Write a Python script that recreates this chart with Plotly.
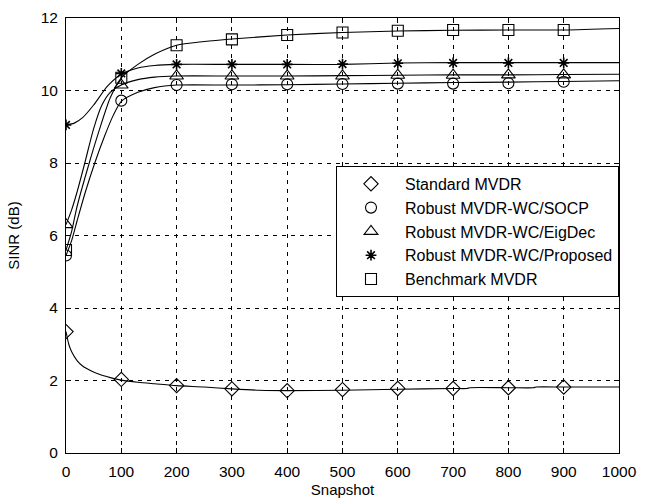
import plotly.graph_objects as go

# Snapshot positions where markers are drawn
marker_x = [0, 100, 200, 300, 400, 500, 600, 700, 800, 900]

# SINR (dB) at the marker positions
std_mvdr_m = [3.35, 2.03, 1.86, 1.77, 1.72, 1.75, 1.78, 1.78, 1.80, 1.82]
socp_m = [5.45, 9.72, 10.15, 10.17, 10.17, 10.18, 10.19, 10.19, 10.20, 10.24]
eigdec_m = [6.3, 10.15, 10.40, 10.40, 10.40, 10.40, 10.42, 10.42, 10.43, 10.43]
proposed_m = [9.05, 10.47, 10.72, 10.72, 10.72, 10.73, 10.75, 10.76, 10.76, 10.76]
benchmark_m = [5.6, 10.35, 11.25, 11.41, 11.53, 11.60, 11.65, 11.67, 11.67, 11.67]

# Smooth curves (snapshot, SINR) for each method
std_mvdr_x = [0, 5, 10, 20, 30, 45, 60, 80, 100, 130, 160, 200, 250, 300, 350, 400,
              500, 600, 700, 725, 730, 800, 845, 850, 900, 1000]
std_mvdr_y = [3.35, 3.0, 2.8, 2.55, 2.40, 2.27, 2.17, 2.08, 2.01, 1.95, 1.91, 1.86, 1.82,
              1.77, 1.73, 1.72, 1.73, 1.76, 1.78, 1.78, 1.80, 1.80, 1.80, 1.82, 1.82, 1.82]

socp_x = [0, 10, 20, 35, 52, 70, 85, 100, 130, 160, 200, 300, 400, 500, 600, 700, 800, 900, 1000]
socp_y = [5.45, 5.85, 6.4, 7.2, 8.0, 8.75, 9.3, 9.7, 9.95, 10.08, 10.15, 10.15, 10.16,
          10.18, 10.20, 10.22, 10.23, 10.25, 10.27]

eigdec_x = [0, 10, 20, 34, 50, 65, 80, 100, 130, 160, 200, 300, 400, 500, 600, 700, 800, 900, 1000]
eigdec_y = [6.3, 6.7, 7.2, 8.0, 8.95, 9.6, 9.95, 10.15, 10.3, 10.37, 10.40, 10.40, 10.40,
            10.41, 10.42, 10.43, 10.43, 10.44, 10.45]

proposed_x = [0, 15, 30, 50, 75, 100, 130, 160, 200, 300, 400, 500, 600, 700, 800, 900, 1000]
proposed_y = [9.05, 9.1, 9.25, 9.6, 10.12, 10.45, 10.62, 10.69, 10.72, 10.72, 10.72, 10.72,
              10.76, 10.77, 10.77, 10.77, 10.77]

benchmark_x = [0, 10, 20, 42, 60, 80, 100, 130, 160, 200, 250, 300, 400, 500, 600, 700, 800, 900, 1000]
benchmark_y = [5.6, 6.1, 6.8, 8.0, 8.9, 9.8, 10.35, 10.72, 11.0, 11.25, 11.35, 11.42, 11.53,
               11.60, 11.64, 11.66, 11.67, 11.67, 11.71]

names = ["Standard MVDR", "Robust MVDR-WC/SOCP", "Robust MVDR-WC/EigDec",
         "Robust MVDR-WC/Proposed", "Benchmark MVDR"]
symbols = ["diamond-open", "circle-open", "triangle-up-open", "asterisk-open", "square-open"]
sizes = [11, 11, 12, 9, 11]

curves = [(std_mvdr_x, std_mvdr_y), (socp_x, socp_y), (eigdec_x, eigdec_y),
          (proposed_x, proposed_y), (benchmark_x, benchmark_y)]
marks = [std_mvdr_m, socp_m, eigdec_m, proposed_m, benchmark_m]

FONT = "Liberation Sans, Arial, Helvetica, sans-serif"

fig = go.Figure()

for (cx, cy) in curves:
    fig.add_trace(go.Scatter(
        x=cx, y=cy, mode="lines",
        line=dict(color="black", width=1.1, shape="spline", smoothing=0.7),
        showlegend=False, hoverinfo="skip"))

for i, (name, sym, sz, my) in enumerate(zip(names, symbols, sizes, marks)):
    fig.add_trace(go.Scatter(
        x=marker_x, y=my, mode="markers", name=name,
        legendgroup=f"g{i}",
        marker=dict(symbol=sym, size=sz, color="black",
                    line=dict(color="black", width=1.6 if sym.startswith("asterisk") else 1.1))))

axis_common = dict(
    showline=True, linecolor="black", linewidth=1, mirror="ticks",
    ticks="inside", ticklen=5, tickcolor="black", tickwidth=1,
    showgrid=True, gridcolor="black", gridwidth=1, griddash="4px,5px",
    zeroline=False, automargin=False,
    tickfont=dict(family=FONT, size=15.5, color="black"),
)

fig.update_xaxes(range=[0, 1000], dtick=100, tick0=0,
                 title=dict(text="Snapshot", font=dict(family=FONT, size=15, color="black"),
                            standoff=6),
                 ticklabelstandoff=4,
                 **axis_common)
fig.update_yaxes(range=[0, 12], dtick=2, tick0=0,
                 title=dict(text="SINR (dB)", font=dict(family=FONT, size=15, color="black"),
                            standoff=17),
                 ticklabelstandoff=4,
                 **axis_common)

fig.update_layout(
    width=648, height=498,
    margin=dict(l=66, r=29, t=18, b=45),
    paper_bgcolor="white", plot_bgcolor="white",
    font=dict(family=FONT, color="black"),
    legend=dict(
        x=1.0, xanchor="right", y=0.66, yanchor="top",
        bgcolor="white", bordercolor="black", borderwidth=1,
        font=dict(family=FONT, size=16, color="black"),
        itemwidth=58, tracegroupgap=0,
    ),
)

fig.write_html("out.html")
